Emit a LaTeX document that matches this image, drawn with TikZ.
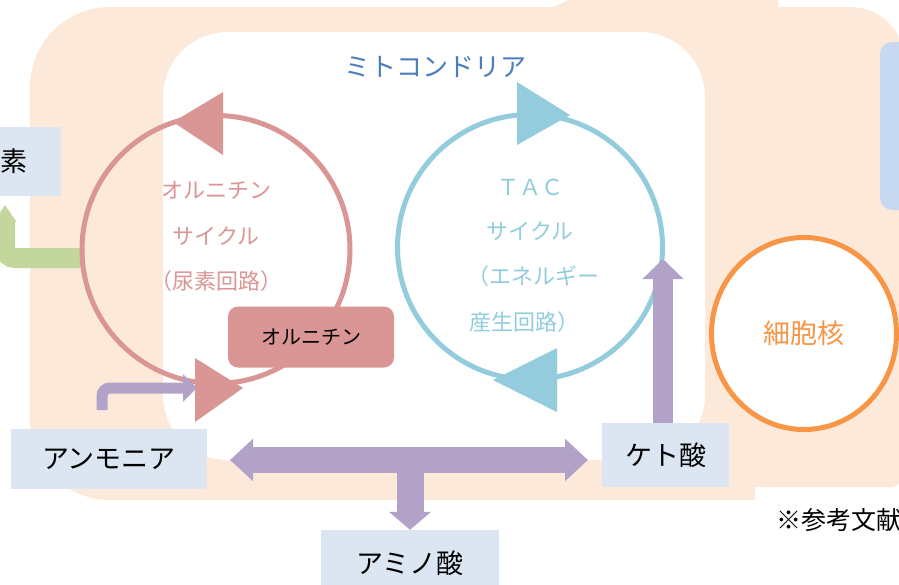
\documentclass[tikz,border=0pt]{standalone}
\usepackage{fontspec}
\setmainfont{Noto Sans CJK JP}
\usetikzlibrary{arrows.meta,shapes.geometric}

\definecolor{cellbg}{HTML}{FDE9D9}
\definecolor{ornpink}{HTML}{D99694}
\definecolor{tacblue}{HTML}{93CDDD}
\definecolor{nhpurple}{HTML}{B3A2C7}
\definecolor{boxblue}{HTML}{DCE6F2}
\definecolor{ureagreen}{HTML}{C3D69B}
\definecolor{nucorange}{HTML}{F79646}
\definecolor{mitoblue}{HTML}{4A7EBB}
\definecolor{sideblue}{HTML}{C6D9F1}
\newcommand{\fsz}[1]{\fontsize{#1}{#1}\selectfont}

\tikzset{
  matbox/.style={fill=boxblue, inner sep=0pt, font=\fsz{27}},
  cyclering/.style={circle, draw=#1, line width=5pt, inner sep=0pt},
  cyclelabel/.style={font=\fsz{22}, text=#1, inner sep=0pt},
  fatarrow/.style={draw=nhpurple, line width=#1},
}

\begin{document}
\begin{tikzpicture}[x=1pt,y=-1pt]
  \useasboundingbox (0,0) rectangle (899,584);
  \clip (0,0) rectangle (899,584);
  % cell
  \fill[cellbg, rounded corners=80pt] (30,7) rectangle (760,500);
  \fill[cellbg] (300,420) rectangle (755,500);
  \fill[cellbg, rounded corners=55pt] (400,7) rectangle (905,300);
  \fill[cellbg, rounded corners=8pt] (700,200) rectangle (900,487);
  \fill[cellbg] (553,7) -- (575,-3) -- (778,-3) -- (778,7) -- cycle;
  \fill[sideblue, rounded corners=12pt] (880,42) rectangle (930,210);
  % mitochondria
  \fill[white, rounded corners=65pt] (163,32) rectangle (705,460);
  \node[font=\fsz{26}, text=mitoblue] (mitolabel) at (435,67) {ミトコンドリア};

  % nucleus
  \node[ellipse, draw=nucorange, line width=5pt, fill=white, inner sep=0pt,
    minimum width=185pt, minimum height=192pt, text=nucorange, font=\fsz{27}]
    (nucleus) at (804,333.5) {細胞核};

  % urea out
  \node[matbox, minimum width=121pt, minimum height=69pt] (urea) at (0.5,161.5) {尿素};
  \coordinate (ornout) at (84,258);
  \coordinate (ureain) at (5,205);
  \draw[ureagreen, line width=20pt, rounded corners=10pt,
    -{Triangle[width=22pt,length=17pt]}] (ornout) -| (ureain);

  % cycles
  \node[cyclering=ornpink, minimum size=268pt] (orn) at (216,249.5) {};
  \node[cyclering=tacblue, minimum size=265pt] (tac) at (530,247) {};
  \foreach \bx/\ya/\yb/\tx/\ty/\col in {223/92/155/173/122/ornpink,
      195/358/422/243/388/ornpink, 517/82/145/570/115/tacblue,
      557/348/412/493/380/tacblue} {
    \fill[\col] (\bx,\ya) -- (\bx,\yb) -- (\tx,\ty) -- cycle; }
  \node[cyclelabel=ornpink] (ornA) at (216,190) {オルニチン};
  \node[cyclelabel=ornpink] (ornB) at (216,236) {サイクル};
  \node[cyclelabel=ornpink] (ornC) at (216,281) {（尿素回路）};
  \node[cyclelabel=tacblue] (tacA) at (530,187) {ＴＡＣ};
  \node[cyclelabel=tacblue] (tacB) at (530,231) {サイクル};
  \node[cyclelabel=tacblue] (tacC) at (533,276) {（エネルギー};
  \node[cyclelabel=tacblue, anchor=west] (tacD) at (469,322) {産生回路）};
  \node[fill=ornpink, rounded corners=10pt, minimum width=166pt, minimum height=61pt,
    font=\fsz{20}] (ornbox) at (311,337) {オルニチン};

  % amino acid metabolism
  \node[matbox, minimum width=196pt, minimum height=60pt] (ammonia) at (109,459) {アンモニア};
  \node[matbox, minimum width=127pt, minimum height=64pt] (keto) at (665.5,455) {ケト酸};
  \node[matbox, minimum width=178pt, minimum height=66pt] (amino) at (410,563) {アミノ酸};
  \node[anchor=west, font=\fsz{25}, inner sep=0pt] (refnote) at (776,520) {※参考文献};

  \coordinate (nhstart) at (102,410);
  \coordinate (ornin) at (197,388);
  \draw[fatarrow=11pt, rounded corners=8pt, -{Triangle[width=27pt,length=14pt]}]
    (nhstart) |- (ornin);
  \coordinate (nhright) at (230,460);
  \coordinate (ketoleft) at (588,460);
  \draw[fatarrow=26pt, {Triangle[width=41pt,length=23pt]}-{Triangle[width=41pt,length=23pt]}]
    (nhright) -- (ketoleft);
  \coordinate (tee) at (410,460);
  \draw[fatarrow=27pt, -{Triangle[width=41pt,length=18pt]}] (tee) -- (amino.north);
  \coordinate (tacin) at (663,259);
  \draw[fatarrow=20pt, -{Triangle[width=40pt,length=20pt]}] (keto.north -| tacin) -- (tacin);
\end{tikzpicture}
\end{document}
